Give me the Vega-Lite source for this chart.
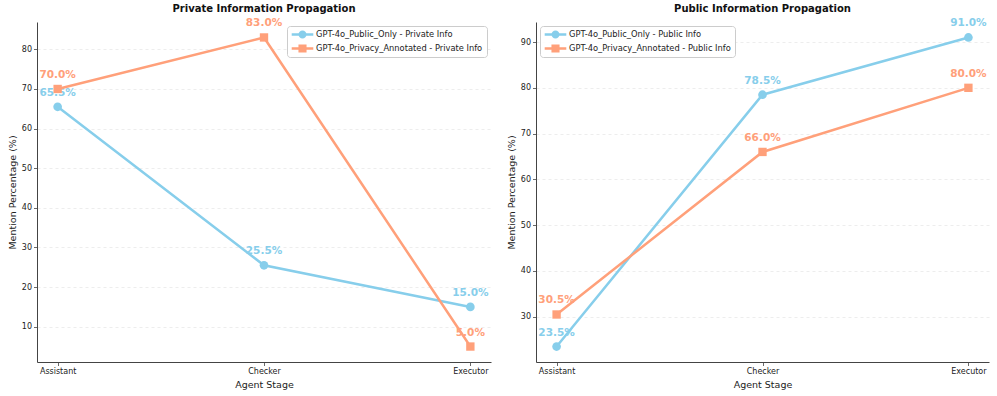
{
  "$schema": "https://vega.github.io/schema/vega-lite/v6.json",
  "background": "white",
  "padding": {"left": 7, "top": 4, "right": 7, "bottom": 5},
  "config": {
    "font": "DejaVu Sans",
    "view": {"stroke": null},
    "axis": {
      "labelFont": "DejaVu Sans", "labelFontSize": 8, "labelColor": "#222",
      "titleFont": "DejaVu Sans", "titleFontSize": 9.5, "titleFontWeight": "normal", "titleColor": "#222",
      "domainColor": "#444", "domainWidth": 1, "tickColor": "#444", "tickSize": 3.5, "tickWidth": 0.8, "labelPadding": 2
    },
    "title": {"font": "DejaVu Sans", "fontSize": 10, "fontWeight": "bold", "color": "#111", "anchor": "middle", "offset": 4},
    "legend": {
      "title": null, "labelFont": "DejaVu Sans", "labelFontSize": 8.3, "labelColor": "#222", "labelLimit": 400,
      "symbolSize": 81, "symbolOffset": 7, "labelOffset": 9, "rowPadding": 4, "padding": 4,
      "strokeColor": "#cccccc", "fillColor": "rgba(255,255,255,0.85)", "cornerRadius": 3, "offset": 4
    }
  },
  "datasets": {
    "private": [
      {"stage": "Assistant", "series": "GPT-4o_Public_Only - Private Info", "value": 65.5},
      {"stage": "Checker", "series": "GPT-4o_Public_Only - Private Info", "value": 25.5},
      {"stage": "Executor", "series": "GPT-4o_Public_Only - Private Info", "value": 15.0},
      {"stage": "Assistant", "series": "GPT-4o_Privacy_Annotated - Private Info", "value": 70.0},
      {"stage": "Checker", "series": "GPT-4o_Privacy_Annotated - Private Info", "value": 83.0},
      {"stage": "Executor", "series": "GPT-4o_Privacy_Annotated - Private Info", "value": 5.0}
    ],
    "public": [
      {"stage": "Assistant", "series": "GPT-4o_Public_Only - Public Info", "value": 23.5},
      {"stage": "Checker", "series": "GPT-4o_Public_Only - Public Info", "value": 78.5},
      {"stage": "Executor", "series": "GPT-4o_Public_Only - Public Info", "value": 91.0},
      {"stage": "Assistant", "series": "GPT-4o_Privacy_Annotated - Public Info", "value": 30.5},
      {"stage": "Checker", "series": "GPT-4o_Privacy_Annotated - Public Info", "value": 66.0},
      {"stage": "Executor", "series": "GPT-4o_Privacy_Annotated - Public Info", "value": 80.0}
    ]
  },
  "spacing": 45,
  "bounds": "flush",
  "resolve": {
    "scale": {"color": "independent"},
    "legend": {"color": "independent"}
  },
  "hconcat": [
    {
      "width": 454, "height": 340,
      "title": {"text": "Private Information Propagation"},
      "data": {"name": "private"},
      "transform": [{"calculate": "format(datum.value, '.1f') + '%'", "as": "label"}],
      "encoding": {
        "x": {"field": "stage", "type": "ordinal", "sort": ["Assistant", "Checker", "Executor"],
              "scale": {"type": "point", "padding": 0.1},
              "axis": {"title": "Agent Stage", "labelAngle": 0, "grid": false, "titlePadding": 4}},
        "y": {"field": "value", "type": "quantitative",
              "scale": {"domain": [1.1, 86.9], "nice": false, "zero": false},
              "axis": {"title": "Mention Percentage (%)", "values": [10, 20, 30, 40, 50, 60, 70, 80], "grid": true,
                       "gridDash": [3, 3], "gridColor": "#e8e8e8", "gridWidth": 0.8, "titlePadding": 4}},
        "color": {"field": "series", "type": "nominal",
                  "scale": {"domain": ["GPT-4o_Public_Only - Private Info", "GPT-4o_Privacy_Annotated - Private Info"], "range": ["#87CEEB", "#FFA07A"]},
                  "legend": {"orient": "top-right", "symbolType": "M-2.4,-0.28 L2.4,-0.28 L2.4,0.28 L-2.4,0.28 Z M0.9,0 A0.9,0.9 0 1,1 -0.9,0 A0.9,0.9 0 1,1 0.9,0 Z",
                    "encode": {"symbols": {"update": {
                      "shape": {"signal": "indexof(datum.value,'Public_Only')>=0 ? 'M-2.4,-0.28 L2.4,-0.28 L2.4,0.28 L-2.4,0.28 Z M0.9,0 A0.9,0.9 0 1,1 -0.9,0 A0.9,0.9 0 1,1 0.9,0 Z' : 'M-2.4,-0.28 L2.4,-0.28 L2.4,0.28 L-2.4,0.28 Z M-0.9,-0.9 L0.9,-0.9 L0.9,0.9 L-0.9,0.9 Z'"},
                      "fill": {"signal": "indexof(datum.value,'Public_Only')>=0 ? '#87CEEB' : '#FFA07A'"},
                      "stroke": {"value": "transparent"}, "strokeWidth": {"value": 0}, "opacity": {"value": 1}, "fillOpacity": {"value": 1}
                    }}}}}
      },
      "layer": [
        {"mark": {"type": "text", "fontWeight": "bold", "fontSize": 10.5, "dy": -14}, "encoding": {"text": {"field": "label"}}},
        {"mark": {"type": "line", "strokeWidth": 2.5}},
        {"transform": [{"filter": "indexof(datum.series,'Public_Only')>=0"}],
         "mark": {"type": "point", "shape": "circle", "filled": true, "opacity": 1, "size": 75}},
        {"transform": [{"filter": "indexof(datum.series,'Privacy_Annotated')>=0"}],
         "mark": {"type": "point", "shape": "square", "filled": true, "opacity": 1, "size": 70}}
      ]
    },
    {
      "width": 453, "height": 340,
      "title": {"text": "Public Information Propagation"},
      "data": {"name": "public"},
      "transform": [{"calculate": "format(datum.value, '.1f') + '%'", "as": "label"}],
      "encoding": {
        "x": {"field": "stage", "type": "ordinal", "sort": ["Assistant", "Checker", "Executor"],
              "scale": {"type": "point", "padding": 0.1},
              "axis": {"title": "Agent Stage", "labelAngle": 0, "grid": false, "titlePadding": 4}},
        "y": {"field": "value", "type": "quantitative",
              "scale": {"domain": [20.125, 94.375], "nice": false, "zero": false},
              "axis": {"title": "Mention Percentage (%)", "values": [30, 40, 50, 60, 70, 80, 90], "grid": true,
                       "gridDash": [3, 3], "gridColor": "#e8e8e8", "gridWidth": 0.8, "titlePadding": 4}},
        "color": {"field": "series", "type": "nominal",
                  "scale": {"domain": ["GPT-4o_Public_Only - Public Info", "GPT-4o_Privacy_Annotated - Public Info"], "range": ["#87CEEB", "#FFA07A"]},
                  "legend": {"orient": "top-left", "symbolType": "M-2.4,-0.28 L2.4,-0.28 L2.4,0.28 L-2.4,0.28 Z M0.9,0 A0.9,0.9 0 1,1 -0.9,0 A0.9,0.9 0 1,1 0.9,0 Z",
                    "encode": {"symbols": {"update": {
                      "shape": {"signal": "indexof(datum.value,'Public_Only')>=0 ? 'M-2.4,-0.28 L2.4,-0.28 L2.4,0.28 L-2.4,0.28 Z M0.9,0 A0.9,0.9 0 1,1 -0.9,0 A0.9,0.9 0 1,1 0.9,0 Z' : 'M-2.4,-0.28 L2.4,-0.28 L2.4,0.28 L-2.4,0.28 Z M-0.9,-0.9 L0.9,-0.9 L0.9,0.9 L-0.9,0.9 Z'"},
                      "fill": {"signal": "indexof(datum.value,'Public_Only')>=0 ? '#87CEEB' : '#FFA07A'"},
                      "stroke": {"value": "transparent"}, "strokeWidth": {"value": 0}, "opacity": {"value": 1}, "fillOpacity": {"value": 1}
                    }}}}}
      },
      "layer": [
        {"mark": {"type": "text", "fontWeight": "bold", "fontSize": 10.5, "dy": -14}, "encoding": {"text": {"field": "label"}}},
        {"mark": {"type": "line", "strokeWidth": 2.5}},
        {"transform": [{"filter": "indexof(datum.series,'Public_Only')>=0"}],
         "mark": {"type": "point", "shape": "circle", "filled": true, "opacity": 1, "size": 75}},
        {"transform": [{"filter": "indexof(datum.series,'Privacy_Annotated')>=0"}],
         "mark": {"type": "point", "shape": "square", "filled": true, "opacity": 1, "size": 70}}
      ]
    }
  ]
}
